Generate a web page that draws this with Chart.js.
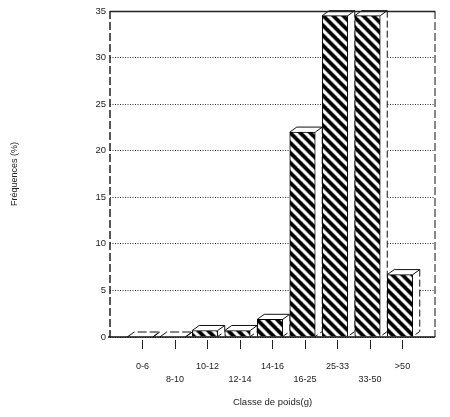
<!DOCTYPE html>
<html>
<head>
<meta charset="utf-8">
<style>html,body{margin:0;padding:0;background:#fff}canvas{display:block}</style>
<script src="https://cdn.jsdelivr.net/npm/chart.js@4"></script>
</head>
<body>
<canvas id="c" width="450" height="417"></canvas>
<script>
const categories = ['0-6','8-10','10-12','12-14','14-16','16-25','25-33','33-50','>50'];
const frequencies = [0, 0, 0.7, 0.7, 1.9, 22, 34.5, 34.5, 6.7];
const yTicks = [0,5,10,15,20,25,30,35];
const yTitle = 'Fréquences (%)';
const xTitle = 'Classe de poids(g)';

const labels = ['', ...categories, ''];
const values = [null, ...frequencies, null];

function hatch(){
  const t = document.createElement('canvas');
  t.width = t.height = 10;
  const g = t.getContext('2d');
  g.fillStyle = '#fff'; g.fillRect(0,0,10,10);
  g.strokeStyle = '#000'; g.lineWidth = 3.8;
  [-10,0,10].forEach(o=>{g.beginPath();g.moveTo(o-2,-2);g.lineTo(o+12,12);g.stroke();});
  return document.createElement('canvas').getContext('2d').createPattern(t,'repeat');
}

const DX = 7, DY = 5, SHIFT = -2.5;
const bar3d = {
  id:'bar3d',
  beforeDatasetDraw(chart){
    const c = chart.ctx;
    c.save();
    c.translate(SHIFT,0);
    chart.getDatasetMeta(0).data.forEach((b,i)=>{
      if(values[i]===null) return;
      const l=b.x-b.width/2, r=b.x+b.width/2, t=b.y, z=b.base;
      c.fillStyle='#fff';
      c.strokeStyle='#111';
      c.lineWidth=1;
      c.setLineDash([]);
      c.beginPath();c.moveTo(l,t);c.lineTo(l+DX,t-DY);c.lineTo(r+DX,t-DY);c.lineTo(r+DX,z-DY);c.lineTo(r,z);c.lineTo(l,z);c.closePath();c.fill();
      if(values[i]===0) c.setLineDash([9,3]);
      c.beginPath();c.moveTo(l,t);c.lineTo(l+DX,t-DY);c.lineTo(r+DX,t-DY);c.lineTo(r,t);c.stroke();
      c.setLineDash([7,3]);
      c.beginPath();c.moveTo(r+DX,t-DY);c.lineTo(r+DX,z-DY);c.lineTo(r,z);c.stroke();
      c.setLineDash([]);
    });
  },
  afterDatasetDraw(chart){ chart.ctx.restore(); }
};
const frame = {
  id:'frame',
  afterDraw(chart){
    const {left,right,top,bottom}=chart.chartArea, c=chart.ctx;
    c.save();
    c.strokeStyle='#222';c.lineWidth=1.4;
    c.beginPath();c.moveTo(left,top+.5);c.lineTo(right,top+.5);c.stroke();
    c.strokeStyle='#111';c.lineWidth=1.4;
    c.beginPath();c.moveTo(left-2,bottom);c.lineTo(right,bottom);c.stroke();
    c.lineWidth=1;c.setLineDash([8,3]);
    c.beginPath();c.moveTo(right,top);c.lineTo(right,bottom);c.stroke();
    c.lineWidth=1.4;
    c.beginPath();c.moveTo(left,top);c.lineTo(left,bottom);c.stroke();
    c.restore();
  }
};

new Chart(document.getElementById('c'),{
  type:'bar',
  data:{labels,datasets:[{
    data:values,
    backgroundColor:hatch(),
    borderColor:'#000',
    borderWidth:1,
    barThickness:25.5
  }]},
  plugins:[bar3d,frame],
  options:{
    responsive:false,
    animation:false,
    layout:{padding:{left:9,right:15,top:11,bottom:9}},
    plugins:{legend:{display:false},tooltip:{enabled:false}},
    scales:{
      x:{
        offset:false,
        afterFit(s){s.height=71;},
        grid:{offset:false,drawOnChartArea:false,drawTicks:true,tickLength:12,tickColor:(c)=>labels[c.index]?'#222':'rgba(0,0,0,0)',tickWidth:1,tickBorderDash:[9,99],tickBorderDashOffset:-3},
        border:{display:false},
        ticks:{
          autoSkip:false,maxRotation:0,minRotation:0,padding:11,color:'#222',
          font:{family:'Liberation Sans',size:9,lineHeight:1.45},
          callback(v,i){const l=labels[i];if(!l)return '';return (i%2===1)?[l,'']:['',l];}
        },
        title:{display:true,text:xTitle,color:'#222',font:{family:'Liberation Sans',size:9.5},padding:0}
      },
      y:{
        min:0,max:35,
        afterFit(s){s.width=101;},
        afterBuildTicks(s){s.ticks=yTicks.map(v=>({value:v}));},
        grid:{color:'#333',lineWidth:1,drawTicks:false},
        border:{display:false,dash:[1,1.5]},
        ticks:{padding:4,color:'#222',font:{family:'Liberation Sans',size:9.5}},
        title:{display:true,text:yTitle,color:'#222',font:{family:'Liberation Sans',size:9},padding:0}
      }
    }
  }
});
</script>
</body>
</html>
